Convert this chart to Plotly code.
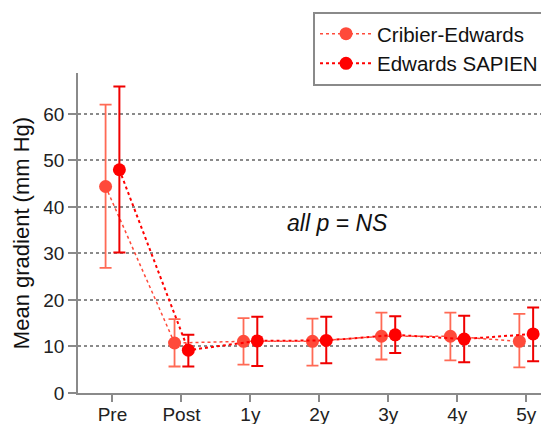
import plotly.graph_objects as go

categories = ["Pre", "Post", "1y", "2y", "3y", "4y", "5y"]

cribier_mean = [44.4, 10.75, 11.1, 11.1, 12.2, 12.2, 11.1]
cribier_upper = [62.0, 15.9, 16.1, 16.0, 17.3, 17.3, 17.0]
cribier_lower = [26.9, 5.7, 6.1, 5.9, 7.2, 7.0, 5.5]

sapien_mean = [48.0, 9.2, 11.2, 11.3, 12.5, 11.6, 12.7]
sapien_upper = [65.9, 12.5, 16.4, 16.4, 16.5, 16.6, 18.4]
sapien_lower = [30.2, 5.7, 5.8, 6.4, 8.6, 6.6, 6.8]

offset = 0.1
x_idx = list(range(len(categories)))

def series(name, mean, up, lo, shift, color, ecolor, lw, ew):
    return go.Scatter(
        x=[i + shift for i in x_idx], y=mean, name=name,
        mode="lines+markers",
        line=dict(color=color, width=lw, dash="dot"),
        marker=dict(color=color, size=13),
        error_y=dict(type="data", symmetric=False,
                     array=[u - m for u, m in zip(up, mean)],
                     arrayminus=[m - l for m, l in zip(mean, lo)],
                     color=ecolor, thickness=ew, width=6),
    )

fig = go.Figure()
fig.add_trace(series("Cribier-Edwards", cribier_mean, cribier_upper, cribier_lower,
                     -offset, "#FF4A3A", "#FF6A55", 1.5, 1.8))
fig.add_trace(series("Edwards SAPIEN", sapien_mean, sapien_upper, sapien_lower,
                     offset, "#FF0000", "#F00000", 2, 2))

fig.add_annotation(x=3.27, y=36.6, text="<i>all p = NS</i>", showarrow=False,
                   font=dict(size=23, color="#111", family="Liberation Sans, Arial"))

# page body has an 8px margin, so the figure is shifted by 8px; compensate
fig.update_layout(
    width=541, height=416,
    margin=dict(l=70, r=0, t=0, b=31),
    paper_bgcolor="white", plot_bgcolor="white",
    font=dict(family="Liberation Sans, Arial", size=19, color="#222"),
    showlegend=True,
    legend=dict(x=0.499, y=0.99, xanchor="left", yanchor="top",
                bgcolor="white", bordercolor="#8a8a8a", borderwidth=2,
                font=dict(size=20.5, color="#111"), tracegroupgap=0,
                itemwidth=52),
)
fig.update_xaxes(range=[-0.5, 6.33], tickmode="array", tickvals=x_idx, ticktext=categories,
                 showgrid=False, zeroline=False, showline=True, linecolor="#8a8a8a", linewidth=1.5,
                 ticks="outside", ticklen=7, tickcolor="#8a8a8a", tickwidth=1.5,
                 ticklabelstandoff=-4,
                 tickfont=dict(size=19, color="#222"), automargin=False)
fig.update_yaxes(range=[0, 68.8], tickvals=[0, 10, 20, 30, 40, 50, 60], domain=[0, 0.8312],
                 showgrid=True, gridcolor="#8a8a8a", griddash="dot", gridwidth=1.5,
                 zeroline=False, showline=True, linecolor="#8a8a8a", linewidth=1.5,
                 ticks="outside", ticklen=8, tickcolor="#8a8a8a", tickwidth=1.5,
                 tickfont=dict(size=19, color="#222"), automargin=False,
                 title=dict(text="Mean gradient (mm Hg)", font=dict(size=22, color="#111"), standoff=8))

fig.write_html("out.html")
